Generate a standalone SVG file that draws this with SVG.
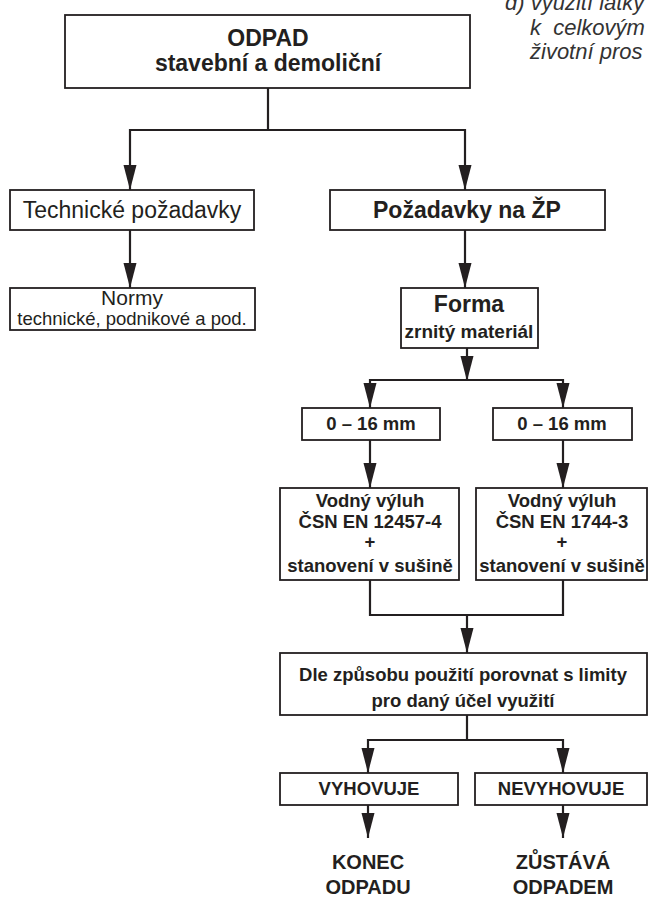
<svg xmlns="http://www.w3.org/2000/svg" width="648" height="902" viewBox="0 0 648 902">
<defs>
<style>
.box{fill:#fff;stroke:#231f20;stroke-width:1.8}
.ln{fill:none;stroke:#231f20;stroke-width:2.2}
.t{font-family:"Liberation Sans",Arial,Helvetica,sans-serif;fill:#231f20;text-anchor:middle}
.b{font-weight:bold}
.it{font-family:"Liberation Sans",Arial,Helvetica,sans-serif;font-style:italic;fill:#333;font-size:22px}
</style>
<marker id="ah" markerUnits="userSpaceOnUse" markerWidth="25" markerHeight="14" refX="25" refY="7" orient="auto">
<path d="M0,0.5 L25,7 L0,13.5 z" fill="#231f20"/>
</marker>
</defs>
<rect width="648" height="902" fill="#fff"/>
<g id="note">
<text class="it" x="505" y="10" xml:space="preserve">d) využití látky</text>
<text class="it" x="530" y="35" xml:space="preserve">k  celkovým</text>
<text class="it" x="530" y="59">životní pros</text>
</g>
<g id="connectors">
<path class="ln" d="M268,88 V130 M129,130 H466"/>
<path class="ln" d="M130,129 V190" marker-end="url(#ah)"/>
<path class="ln" d="M465,129 V190" marker-end="url(#ah)"/>
<path class="ln" d="M130,230 V288" marker-end="url(#ah)"/>
<path class="ln" d="M465,230 V288" marker-end="url(#ah)"/>
<path class="ln" d="M467,348 V381" marker-end="url(#ah)"/>
<path class="ln" d="M369,380 H564"/>
<path class="ln" d="M370,379 V408" marker-end="url(#ah)"/>
<path class="ln" d="M563,379 V408" marker-end="url(#ah)"/>
<path class="ln" d="M370,440 V488" marker-end="url(#ah)"/>
<path class="ln" d="M563,440 V488" marker-end="url(#ah)"/>
<path class="ln" d="M370,580 V615 H563 V580"/>
<path class="ln" d="M467,615 V653" marker-end="url(#ah)"/>
<path class="ln" d="M467,715 V740 M367,740 H564"/>
<path class="ln" d="M368,739 V773" marker-end="url(#ah)"/>
<path class="ln" d="M563,739 V773" marker-end="url(#ah)"/>
<path class="ln" d="M368,805 V838" marker-end="url(#ah)"/>
<path class="ln" d="M563,805 V838" marker-end="url(#ah)"/>
</g>
<g id="odpad">
<rect class="box" x="65" y="15" width="405" height="73"/>
<text class="t b" x="268" y="46" font-size="23">ODPAD</text>
<text class="t b" x="268" y="71" font-size="23">stavební a demoliční</text>
</g>
<g id="technicke">
<rect class="box" x="10" y="190" width="244" height="40"/>
<text class="t" x="132" y="218" font-size="23">Technické požadavky</text>
</g>
<g id="zp">
<rect class="box" x="330" y="190" width="275" height="40"/>
<text class="t b" x="467" y="218" font-size="23">Požadavky na ŽP</text>
</g>
<g id="normy">
<rect class="box" x="10" y="288" width="245" height="42"/>
<text class="t" x="132" y="305" font-size="21">Normy</text>
<text class="t" x="132" y="325" font-size="18.5">technické, podnikové a pod.</text>
</g>
<g id="forma">
<rect class="box" x="401" y="288" width="137" height="60"/>
<text class="t b" x="469" y="312" font-size="23">Forma</text>
<text class="t b" x="469" y="338" font-size="19">zrnitý materiál</text>
</g>
<g id="mm1">
<rect class="box" x="302" y="408" width="138" height="32"/>
<text class="t b" x="371" y="430" font-size="18.5">0 – 16 mm</text>
</g>
<g id="mm2">
<rect class="box" x="493" y="408" width="139" height="32"/>
<text class="t b" x="562" y="430" font-size="18.5">0 – 16 mm</text>
</g>
<g id="vyluh1">
<rect class="box" x="280" y="488" width="179" height="92"/>
<text class="t b" x="370" y="507" font-size="18.5">Vodný výluh</text>
<text class="t b" x="370" y="528" font-size="18.5">ČSN EN 12457-4</text>
<text class="t b" x="370" y="548" font-size="18.5">+</text>
<text class="t b" x="370" y="572" font-size="18.5">stanovení v sušině</text>
</g>
<g id="vyluh2">
<rect class="box" x="476" y="488" width="171" height="92"/>
<text class="t b" x="562" y="507" font-size="18.5">Vodný výluh</text>
<text class="t b" x="562" y="528" font-size="18.5">ČSN EN 1744-3</text>
<text class="t b" x="562" y="548" font-size="18.5">+</text>
<text class="t b" x="562" y="572" font-size="18.5">stanovení v sušině</text>
</g>
<g id="porovnat">
<rect class="box" x="280" y="653" width="367" height="62"/>
<text class="t b" x="463" y="681" font-size="18.5">Dle způsobu použití porovnat s limity</text>
<text class="t b" x="463" y="707" font-size="18.5">pro daný účel využití</text>
</g>
<g id="vyhovuje">
<rect class="box" x="280" y="773" width="178" height="32"/>
<text class="t b" x="369" y="795" font-size="18.5">VYHOVUJE</text>
</g>
<g id="nevyhovuje">
<rect class="box" x="475" y="773" width="172" height="32"/>
<text class="t b" x="561" y="795" font-size="18.5">NEVYHOVUJE</text>
</g>
<g id="konec">
<text class="t b" x="368" y="869" font-size="20">KONEC</text>
<text class="t b" x="368" y="894" font-size="20">ODPADU</text>
</g>
<g id="zustava">
<text class="t b" x="563" y="869" font-size="20">ZŮSTÁVÁ</text>
<text class="t b" x="563" y="894" font-size="20">ODPADEM</text>
</g>
</svg>
